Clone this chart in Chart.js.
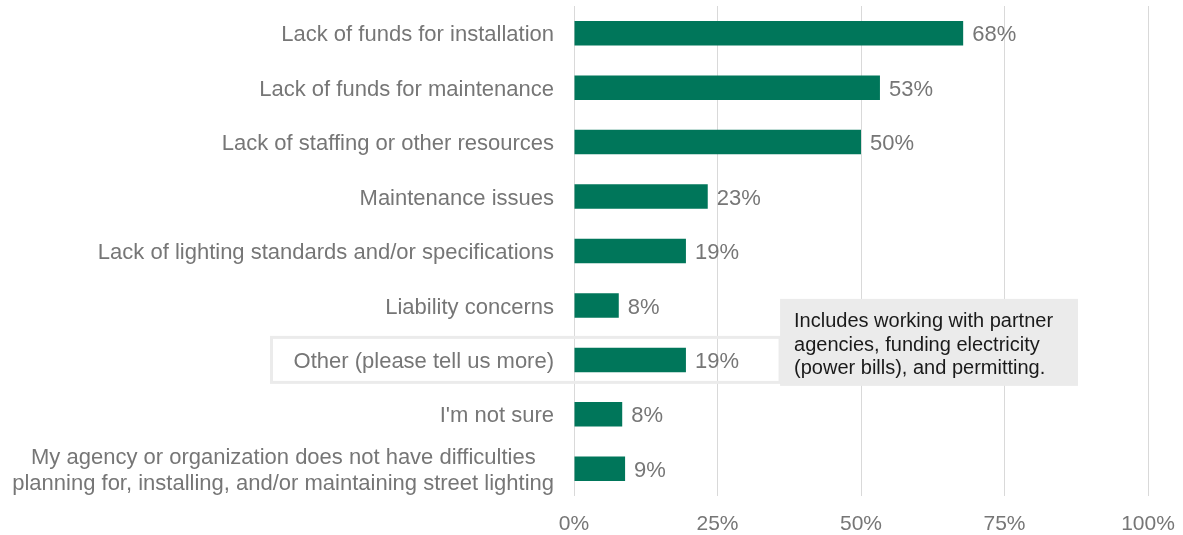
<!DOCTYPE html>
<html>
<head>
<meta charset="utf-8">
<script src="https://cdn.jsdelivr.net/npm/chart.js@4/dist/chart.umd.min.js"></script>
<style>
  html, body { margin: 0; padding: 0; background: #fff; }
  #wrap { width: 1183px; height: 535px; position: relative; }
</style>
</head>
<body>
<div id="wrap"><canvas id="grafico"></canvas></div>
<script>
  const categorias = [
    'Lack of funds for installation',
    'Lack of funds for maintenance',
    'Lack of staffing or other resources',
    'Maintenance issues',
    'Lack of lighting standards and/or specifications',
    'Liability concerns',
    'Other (please tell us more)',
    "I'm not sure",
    ['My agency or organization does not have difficulties   ', 'planning for, installing, and/or maintaining street lighting']
  ];
  const valores = [67.8, 53.3, 50.0, 23.3, 19.5, 7.8, 19.5, 8.4, 8.9];
  const rotulos = ['68%', '53%', '50%', '23%', '19%', '8%', '19%', '8%', '9%'];
  const ticksX = [0, 25, 50, 75, 100];
  const notaTexto = ['Includes working with partner', 'agencies, funding electricity', '(power bills), and permitting.'];
  const indiceOutro = 6;

  const fonte = "'Liberation Sans', Arial, sans-serif";
  const cinza = '#767676';

  // rotulos no fim das barras
  const rotulosPlugin = {
    id: 'rotulos',
    afterDatasetsDraw(chart) {
      const ctx = chart.ctx;
      const meta = chart.getDatasetMeta(0);
      ctx.save();
      ctx.font = '22px ' + fonte;
      ctx.fillStyle = cinza;
      ctx.textAlign = 'left';
      ctx.textBaseline = 'middle';
      meta.data.forEach((bar, i) => {
        ctx.fillText(rotulos[i], bar.x + 9, bar.y + 2);
      });
      ctx.restore();
    }
  };

  // caixa em volta de "Other" e a nota
  const notaPlugin = {
    id: 'nota',
    beforeDatasetsDraw(chart) {
      const ctx = chart.ctx;
      const x = chart.scales.x, y = chart.scales.y;
      const cy = y.getPixelForValue(indiceOutro);
      const direita = x.getPixelForValue(35.9);
      ctx.save();
      ctx.strokeStyle = '#ebebeb';
      ctx.lineWidth = 3;
      ctx.strokeRect(271.5, cy - 22.5, direita - 271.5, 45);
      ctx.restore();
    },
    afterDatasetsDraw(chart) {
      const ctx = chart.ctx;
      const x = chart.scales.x, y = chart.scales.y;
      const cy = y.getPixelForValue(indiceOutro);
      const esq = x.getPixelForValue(35.9);
      const dir = x.getPixelForValue(87.8);
      const topo = cy - 61, base = cy + 26;
      ctx.save();
      ctx.fillStyle = '#ebebeb';
      ctx.fillRect(esq, topo, dir - esq, base - topo);
      ctx.font = '20px ' + fonte;
      ctx.fillStyle = '#1a1a1a';
      ctx.textAlign = 'left';
      ctx.textBaseline = 'middle';
      notaTexto.forEach((linha, i) => {
        ctx.fillText(linha, esq + 14, topo + 23 + i * 23.5);
      });
      ctx.restore();
    }
  };

  const ctx = document.getElementById('grafico').getContext('2d');
  new Chart(ctx, {
    type: 'bar',
    data: {
      labels: categorias,
      datasets: [{
        data: valores,
        backgroundColor: '#00765a',
        borderWidth: 0,
        categoryPercentage: 1,
        barPercentage: 0.45
      }]
    },
    options: {
      indexAxis: 'y',
      responsive: true,
      maintainAspectRatio: false,
      animation: false,
      layout: { padding: { top: 6, right: 35, left: 0, bottom: 0 } },
      plugins: {
        legend: { display: false },
        tooltip: { enabled: false }
      },
      scales: {
        x: {
          min: 0,
          max: 100,
          afterBuildTicks(scale) {
            scale.ticks = ticksX.map(v => ({ value: v }));
          },
          afterFit(scale) {
            scale.height = 39;
            scale.paddingLeft = 0;
            scale.paddingRight = 0;
          },
          grid: { color: '#d9d9d9', lineWidth: 1, drawTicks: false },
          border: { display: false },
          ticks: {
            padding: 16,
            color: cinza,
            font: { family: fonte, size: 21 },
            callback: v => v + '%'
          }
        },
        y: {
          afterFit(scale) {
            scale.width = 574;
            scale.paddingTop = 0;
            scale.paddingBottom = 0;
          },
          grid: { display: false, drawTicks: false },
          border: { display: false },
          ticks: {
            padding: 20,
            labelOffset: 2,
            color: cinza,
            font: { family: fonte, size: 22, lineHeight: 1.18 },
            autoSkip: false
          }
        }
      }
    },
    plugins: [rotulosPlugin, notaPlugin]
  });
</script>
</body>
</html>
